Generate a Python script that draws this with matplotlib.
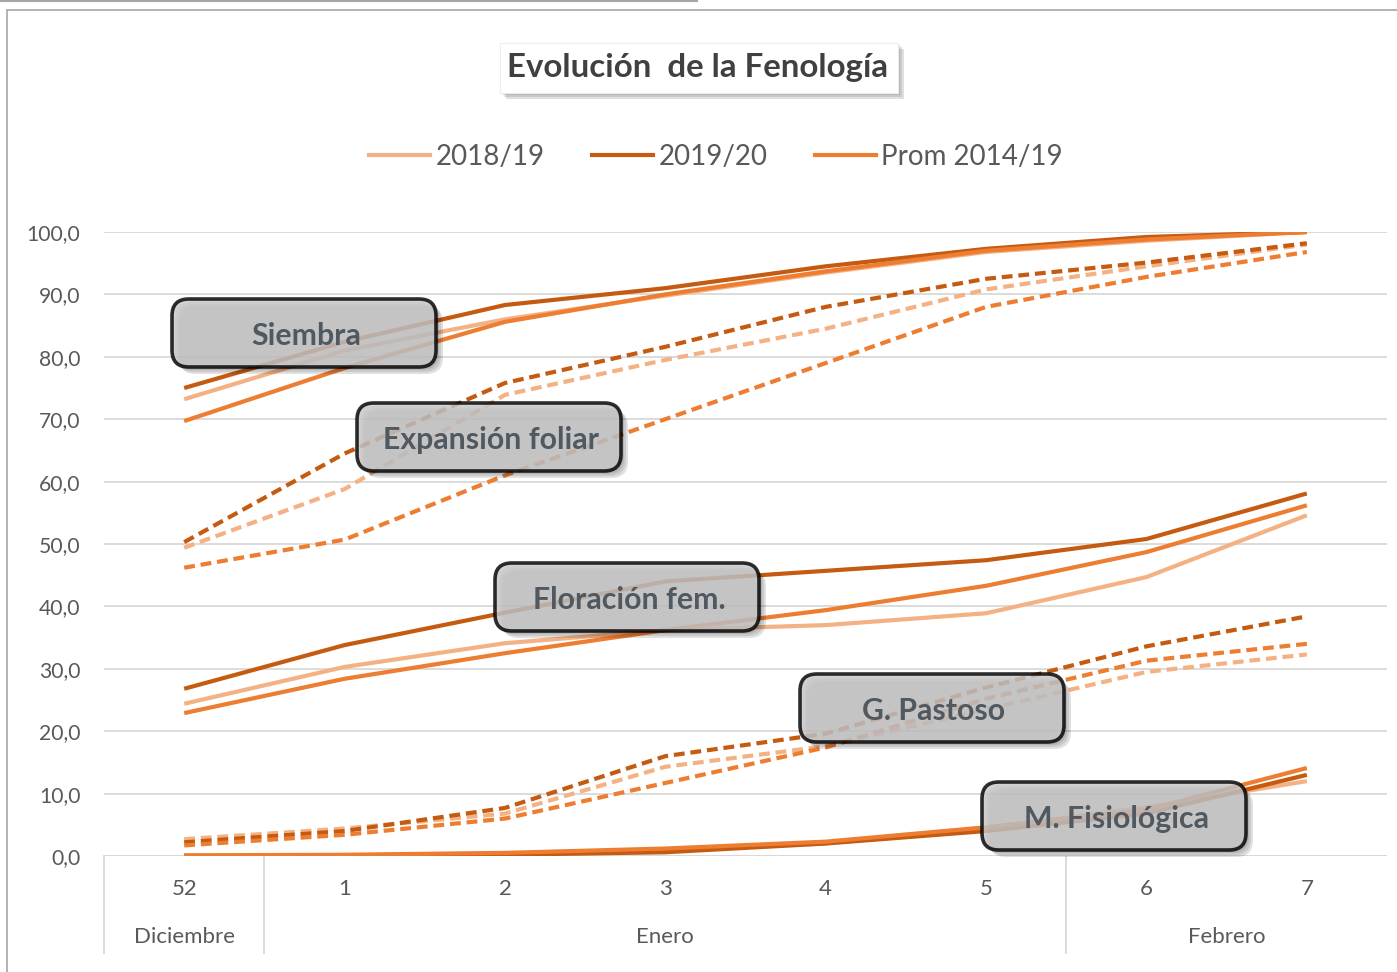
import numpy as np
import matplotlib
matplotlib.use("Agg")
import matplotlib.pyplot as plt
from matplotlib.patches import FancyBboxPatch, Rectangle
from matplotlib.lines import Line2D

plt.rcParams['font.family'] = ['Lato', 'DejaVu Sans']

W, H = 1397, 972

weeks = ['52', '1', '2', '3', '4', '5', '6', '7']
months = ['Diciembre', 'Enero', 'Febrero']
month_span = [(0, 0), (1, 5), (6, 7)]
series_names = ['2018/19', '2019/20', 'Prom 2014/19']
colors = ['#F4B183', '#C55A11', '#ED7D31']

siembra_1819 = [73.2, 81.0, 86.0, 89.8, 93.5, 96.8, 98.6, 100.0]
siembra_1920 = [75.0, 82.4, 88.3, 91.0, 94.5, 97.3, 99.2, 100.0]
siembra_prom = [69.7, 78.2, 85.6, 90.0, 93.7, 97.0, 98.8, 100.0]

expansion_1819 = [49.4, 58.8, 73.9, 79.5, 84.5, 90.8, 94.5, 98.0]
expansion_1920 = [50.3, 64.5, 75.8, 81.6, 88.0, 92.5, 95.1, 98.2]
expansion_prom = [46.2, 50.7, 61.0, 70.0, 79.0, 88.0, 92.8, 96.8]

floracion_1819 = [24.4, 30.3, 34.1, 36.2, 37.0, 38.9, 44.7, 54.6]
floracion_1920 = [26.8, 33.8, 39.0, 44.0, 45.7, 47.4, 50.8, 58.1]
floracion_prom = [22.9, 28.4, 32.5, 36.2, 39.4, 43.3, 48.7, 56.2]

pastoso_1819 = [2.7, 4.4, 6.8, 14.3, 17.6, 23.5, 29.5, 32.3]
pastoso_1920 = [2.2, 4.0, 7.7, 16.0, 19.6, 27.0, 33.6, 38.4]
pastoso_prom = [1.7, 3.4, 6.0, 11.7, 17.4, 25.2, 31.3, 34.0]

fisio_1819 = [0.1, 0.1, 0.3, 0.9, 2.0, 4.5, 7.8, 12.0]
fisio_1920 = [0.0, 0.0, 0.2, 0.6, 2.0, 4.0, 6.8, 13.0]
fisio_prom = [0.1, 0.2, 0.5, 1.2, 2.3, 4.6, 7.4, 14.1]

stages = [
    ('Siembra', [siembra_1819, siembra_1920, siembra_prom], '-'),
    ('Expansión foliar', [expansion_1819, expansion_1920, expansion_prom], '--'),
    ('Floración fem.', [floracion_1819, floracion_1920, floracion_prom], '-'),
    ('G. Pastoso', [pastoso_1819, pastoso_1920, pastoso_prom], '--'),
    ('M. Fisiológica', [fisio_1819, fisio_1920, fisio_prom], '-'),
]
# label box centres in pixels
label_pos = [(304, 333), (489, 437), (627, 597), (932, 708), (1114, 816)]


def fx(x):
    return x / W


def fy(y):
    return 1 - y / H


fig = plt.figure(figsize=(W / 100, H / 100), dpi=100)
fig.patch.set_facecolor('white')

# chart frame
fig.add_artist(Rectangle((fx(7), fy(1100)), fx(1500), (1100 - 10) / H, transform=fig.transFigure,
                         fill=False, ec='#a6a6a6', lw=1.2))
fig.add_artist(Line2D([0, fx(697)], [fy(1), fy(1)], transform=fig.transFigure, color='#a6a6a6', lw=1.5))

ax = fig.add_axes([fx(104), fy(856), fx(1387) - fx(104), fy(232) - fy(856)])
ax.set_xlim(-0.5, 7.5)
ax.set_ylim(0, 100)
for s in ax.spines.values():
    s.set_visible(False)
ax.set_yticks(np.arange(0, 101, 10))
ax.set_yticklabels([f'{v:.1f}'.replace('.', ',') for v in np.arange(0, 101, 10)])
ax.yaxis.grid(True, color='#d9d9d9', lw=1.3)
ax.set_axisbelow(True)
ax.tick_params(axis='y', length=0, pad=17, labelsize=15.2, labelcolor='#595959')
ax.set_xticks([])
ax.axhline(0, color='#d9d9d9', lw=1.5, zorder=1)

x = np.arange(len(weeks))
for name, vals, ls in stages:
    for v, c in zip(vals, colors):
        if ls == '--':
            ax.plot(x, v, color=c, lw=3.0, ls=(0, (2.6, 1.4)), dash_capstyle='butt', zorder=3)
        else:
            ax.plot(x, v, color=c, lw=3.0, solid_capstyle='butt', zorder=3)

# category axis text
for i, w in enumerate(weeks):
    ax.text(i, -5.3, w, ha='center', va='center', fontsize=16, color='#595959', clip_on=False)
for m, (a, b) in zip(months, month_span):
    ax.text((a + b) / 2, -13.0, m, ha='center', va='center', fontsize=16, color='#595959', clip_on=False)
for b in [-0.5, 0.5, 5.5]:
    ax.plot([b, b], [0, -15.5], color='#d9d9d9', lw=1.3, clip_on=False)

# label boxes with shadow
bw, bh = 264, 68
for (name, _, _), (cx, cy) in zip(stages, label_pos):
    for k, a in enumerate([0.10, 0.10, 0.12]):
        off = 3 + k * 2
        sh = FancyBboxPatch((fx(cx - bw / 2 + off), fy(cy + bh / 2 + off)), fx(bw), bh / H,
                            boxstyle='round,pad=0,rounding_size=0.012', transform=fig.transFigure,
                            fc='black', ec='none', alpha=a, mutation_aspect=W / H)
        fig.add_artist(sh)
    box = FancyBboxPatch((fx(cx - bw / 2), fy(cy + bh / 2)), fx(bw), bh / H,
                         boxstyle='round,pad=0,rounding_size=0.012', transform=fig.transFigure,
                         fc='#c8c8c8', ec='black', lw=2.6, alpha=0.82, mutation_aspect=W / H)
    fig.add_artist(box)
    fig.text(fx(cx + 2), fy(cy + 3), name, ha='center', va='center', fontsize=21.8,
             fontweight='bold', color='#505860')

# title box
for k, a in enumerate([0.10, 0.10, 0.12]):
    off = 2 + k * 2
    fig.add_artist(Rectangle((fx(500 + off), fy(93 + off)), fx(398), 50 / H, transform=fig.transFigure,
                             fc='black', ec='none', alpha=a))
fig.add_artist(Rectangle((fx(500), fy(93)), fx(398), 50 / H, transform=fig.transFigure,
                         fc='white', ec='#eeeeee', lw=0.8))
fig.text(fx(698), fy(67), 'Evolución  de la Fenología', ha='center', va='center', fontsize=23.8,
         fontweight='bold', color='#404040')

# legend
handles = [Line2D([], [], color=c, lw=3.0) for c in colors]
fig.legend(handles, series_names, loc='center', bbox_to_anchor=(fx(716), fy(157)), ncol=3,
           frameon=False, fontsize=20, handlelength=2.2, handletextpad=0.2, columnspacing=1.7,
           labelcolor='#595959')

fig.savefig('out.png', dpi=100, facecolor='white')
